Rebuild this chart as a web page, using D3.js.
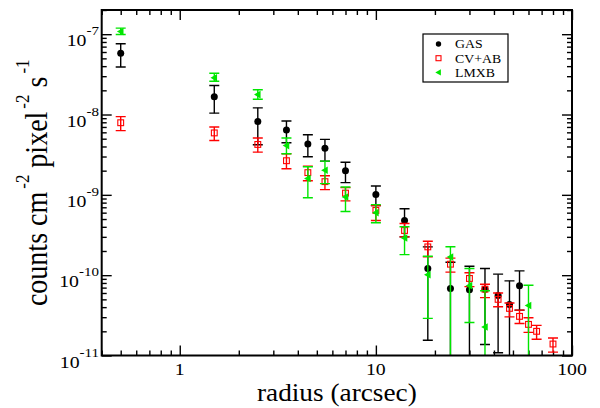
<!DOCTYPE html>
<html>
<head>
<meta charset="utf-8">
<script src="https://cdn.jsdelivr.net/npm/d3@7"></script>
<style>
html,body{margin:0;padding:0;background:#fff;}
svg{display:block;}
text{font-family:"Liberation Serif","Times New Roman",serif;fill:#000;}
</style>
</head>
<body>
<svg id="chart" width="600" height="408"></svg>
<script>
// ---- data ----
const gasR  = [0.5,1.5,2.5,3.5,4.5,5.5,7,10,14,18.4,24,30,36,42,48,54];
const gasV  = [5.8e-8,1.66e-8,8.2e-9,6.4e-9,4.3e-9,3.8e-9,2.0e-9,1.01e-9,4.8e-10,1.21e-10,6.8e-11,6.6e-11,6.7e-11,5.6e-11,4.3e-11,7.4e-11];
const gasHi = [7.6e-8,2.3e-8,1.21e-8,8.3e-9,5.6e-9,4.9e-9,2.55e-9,1.29e-9,6.7e-10,2.25e-10,1.45e-10,1.29e-10,1.21e-10,1.03e-10,8.5e-11,1.13e-10];
const gasLo = [3.9e-8,1.04e-8,4.2e-9,4.45e-9,2.98e-9,2.63e-9,1.42e-9,7.35e-10,3.0e-10,1.55e-11,5e-12,5e-12,1.37e-11,1.08e-11,5e-12,3.67e-11];

const cvR  = [0.5,1.5,2.5,3.5,4.5,5.5,7,10,14,18.4,24,30,36,42,48,54,60,66,80];
const cvV  = [7.9e-9,5.9e-9,4.24e-9,2.66e-9,1.89e-9,1.46e-9,1.05e-9,6.4e-10,3.6e-10,2.25e-10,1.37e-10,9.1e-11,6.7e-11,5.0e-11,3.86e-11,3.07e-11,2.44e-11,2.0e-11,1.39e-11];
const cvHi = [9.4e-9,7.0e-9,5.1e-9,3.25e-9,2.28e-9,1.73e-9,1.23e-9,7.35e-10,4.4e-10,2.64e-10,1.63e-10,1.07e-10,7.7e-11,6.0e-11,4.5e-11,3.67e-11,2.95e-11,2.37e-11,1.65e-11];
const cvLo = [6.3e-9,4.75e-9,3.4e-9,2.11e-9,1.5e-9,1.16e-9,8.4e-10,4.8e-10,3.0e-10,1.69e-10,1.09e-10,7.2e-11,5.25e-11,4.04e-11,3.03e-11,2.5e-11,1.94e-11,1.59e-11,1.1e-11];

const lmR  = [0.5,1.5,2.5,3.5,4.5,5.5,7,10,14,18.4,24,30,36,60];
const lmV  = [1.08e-7,2.86e-8,1.77e-8,4.1e-9,1.6e-9,2.02e-9,9.4e-10,6.0e-10,2.9e-10,1.01e-10,1.68e-10,7.4e-11,2.26e-11,4.2e-11];
const lmHi = [1.19e-7,3.26e-8,2.03e-8,5.1e-9,2.24e-9,2.63e-9,1.25e-9,7.55e-10,4.0e-10,1.72e-10,2.26e-10,1.21e-10,6.4e-11,7.5e-11];
const lmLo = [9.9e-8,2.6e-8,1.55e-8,3.25e-9,9.2e-10,1.38e-9,6.2e-10,4.5e-10,1.8e-10,2.9e-11,5e-12,2.58e-11,5e-12,5e-12];

const seriesNames = ["GAS","CV+AB","LMXB"];
const xTickValues = [1,10,100];
const xTickLabels = ["1","10","100"];
const yTickValues = [1e-7,1e-8,1e-9,1e-10,1e-11];
const yTickExps   = ["-7","-8","-9","-10","-11"];
const xTitle = "radius (arcsec)";

// ---- layout ----
const W = 600, H = 408;
const margin = {left:101.7, right:28, top:10, bottom:52.5};
const pw = W - margin.left - margin.right, ph = H - margin.top - margin.bottom;
const SX = 1.2; // horizontal stretch of tick labels seen in reference

const svg = d3.select("#chart");
const x = d3.scaleLog().domain([0.4,100]).range([margin.left, margin.left+pw]);
const y = d3.scaleLog().domain([1e-11,2e-7]).range([margin.top+ph, margin.top]);

// minor ticks
const xMinor = [];
[0.1,1,10].forEach(d=>{for(let k=2;k<=9;k++){const v=d*k; if(v>=0.4&&v<100&&!xTickValues.includes(v)) xMinor.push(v);}});
const yMinor = [];
[1e-11,1e-10,1e-9,1e-8,1e-7].forEach(d=>{for(let k=2;k<=9;k++){const v=d*k; if(v<=2e-7) yMinor.push(v);}});

function drawAxis(axisFn, scale, vals, size, transform){
  const g = svg.append("g").attr("transform", transform)
    .call(axisFn(scale).tickValues(vals).tickSizeInner(-size).tickSizeOuter(0).tickFormat(""));
  g.select(".domain").remove();
  g.selectAll(".tick line").attr("stroke","#000").attr("stroke-width",1.4);
  return g;
}
const bY = margin.top+ph, rX = margin.left+pw;
drawAxis(d3.axisBottom, x, xTickValues, 10, `translate(0,${bY})`);
drawAxis(d3.axisBottom, x, xMinor, 5, `translate(0,${bY})`);
drawAxis(d3.axisTop, x, xTickValues, 10, `translate(0,${margin.top})`);
drawAxis(d3.axisTop, x, xMinor, 5, `translate(0,${margin.top})`);
drawAxis(d3.axisLeft, y, yTickValues, 10, `translate(${margin.left},0)`);
drawAxis(d3.axisLeft, y, yMinor, 5, `translate(${margin.left},0)`);
drawAxis(d3.axisRight, y, yTickValues, 10, `translate(${rX},0)`);
drawAxis(d3.axisRight, y, yMinor, 5, `translate(${rX},0)`);

// clip
svg.append("clipPath").attr("id","clip").append("rect")
  .attr("x",margin.left).attr("y",margin.top).attr("width",pw).attr("height",ph);

const plot = svg.append("g").attr("clip-path","url(#clip)");

function makeSeries(R,V,Hi,Lo){ return R.map((r,i)=>({r,v:V[i],hi:Hi[i],lo:Lo[i]})); }
const series = [
  {name:seriesNames[0], color:"#000000", data:makeSeries(gasR,gasV,gasHi,gasLo), sym:"circle"},
  {name:seriesNames[1], color:"#ff0000", data:makeSeries(cvR,cvV,cvHi,cvLo), sym:"square"},
  {name:seriesNames[2], color:"#00e600", data:makeSeries(lmR,lmV,lmHi,lmLo), sym:"tri"}
];

function drawSymbol(g, sym, color){
  if(sym==="circle") g.append("circle").attr("r",3.5).attr("fill",color);
  else if(sym==="square") g.append("rect").attr("x",-2.9).attr("y",-2.9).attr("width",5.8).attr("height",5.8)
      .attr("fill","none").attr("stroke",color).attr("stroke-width",1.1);
  else g.append("path").attr("d","M-3.8,0L2.8,-3.8L2.8,3.8Z").attr("fill",color);
}

const capW = 5;
series.forEach(s=>{
  const g = plot.append("g");
  s.data.forEach(d=>{
    const cx = x(d.r), yh = y(d.hi), yl = y(d.lo);
    g.append("line").attr("x1",cx).attr("x2",cx).attr("y1",yh).attr("y2",yl)
      .attr("stroke",s.color).attr("stroke-width",1.4);
    [yh,yl].forEach(yy=>g.append("line").attr("x1",cx-capW).attr("x2",cx+capW).attr("y1",yy).attr("y2",yy)
      .attr("stroke",s.color).attr("stroke-width",1.4));
    const m = g.append("g").attr("transform",`translate(${cx},${y(d.v)})`);
    drawSymbol(m, s.sym, s.color);
  });
});

// frame
svg.append("rect").attr("x",margin.left).attr("y",margin.top).attr("width",pw).attr("height",ph)
  .attr("fill","none").attr("stroke","#000").attr("stroke-width",2);

// x tick labels
xTickValues.forEach((v,i)=>{
  svg.append("text").attr("transform",`translate(${x(v)},374.5) scale(${SX},1)`)
    .attr("text-anchor","middle").attr("font-size",16.5).text(xTickLabels[i]);
});
// y tick labels
yTickValues.forEach((v,i)=>{
  const t = svg.append("text").attr("transform",`translate(99,${y(v)+12}) scale(${SX},1)`)
    .attr("text-anchor","end").attr("font-size",16.5);
  t.append("tspan").text("10");
  t.append("tspan").attr("font-size",12.5).attr("dy",-11).text(yTickExps[i]);
});

// x title
svg.append("text").attr("transform",`translate(${margin.left+pw/2},401) scale(1.05,1)`)
  .attr("text-anchor","middle").attr("font-size",26).text(xTitle);

// y title
const yt = svg.append("text").attr("transform",`translate(47,${margin.top+ph/2}) scale(1.12,1) rotate(-90)`)
  .attr("text-anchor","middle").attr("font-size",28);
yt.append("tspan").text("counts cm");
yt.append("tspan").attr("font-size",17).attr("dx",3).attr("dy",-16).text("-2");
yt.append("tspan").attr("dy",16).text(" pixel");
yt.append("tspan").attr("font-size",17).attr("dx",3).attr("dy",-16).text("-2");
yt.append("tspan").attr("dy",16).text(" s");
yt.append("tspan").attr("font-size",17).attr("dx",3).attr("dy",-16).text("-1");

// legend
const lg = svg.append("g");
lg.append("rect").attr("x",423).attr("y",34).attr("width",85).attr("height",48)
  .attr("fill","#fff").attr("stroke","#000").attr("stroke-width",1.2);
series.forEach((s,i)=>{
  const yy = 44 + i*14.2;
  const m = lg.append("g").attr("transform",`translate(438.5,${yy})`);
  if(s.sym==="circle") m.append("circle").attr("r",2.7).attr("fill",s.color);
  else if(s.sym==="square") m.append("rect").attr("x",-2.5).attr("y",-2.5).attr("width",5).attr("height",5)
      .attr("fill","none").attr("stroke",s.color).attr("stroke-width",1.1);
  else m.append("path").attr("d","M-3.2,0L2.4,-3.2L2.4,3.2Z").attr("fill",s.color);
  lg.append("text").attr("transform",`translate(455,${yy+4.3}) scale(1.15,1)`)
    .attr("font-size",12).text(s.name);
});
</script>
</body>
</html>
